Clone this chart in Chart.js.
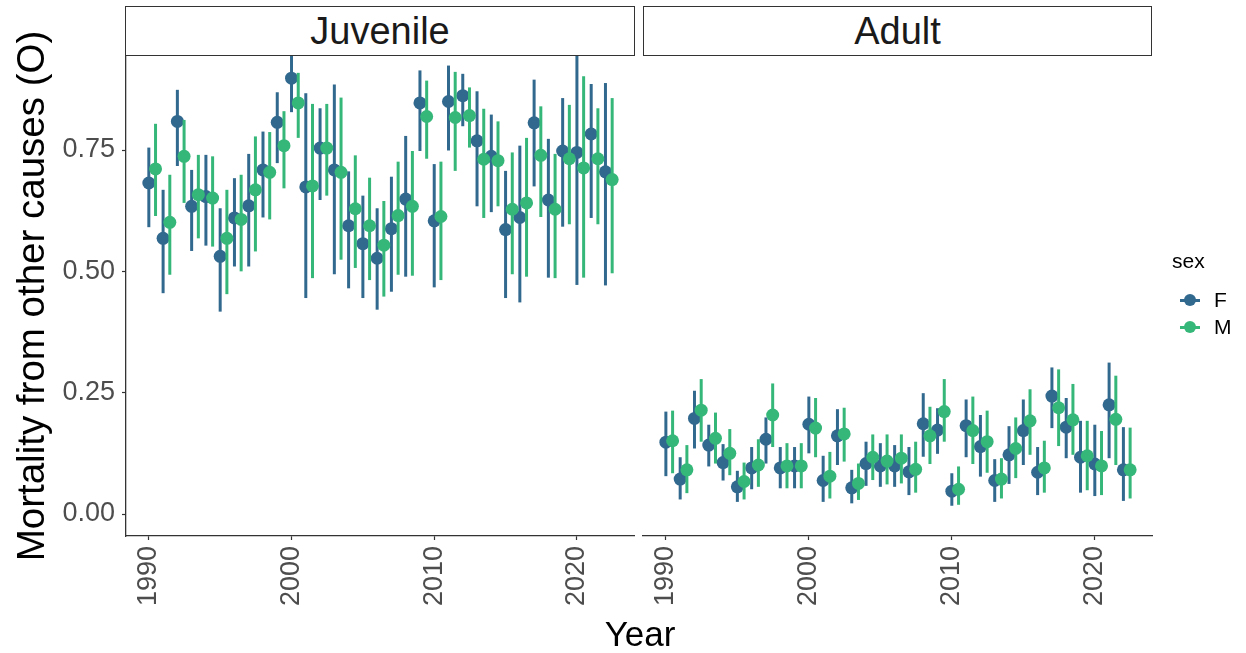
<!DOCTYPE html>
<html>
<head>
<meta charset="utf-8">
<script src="https://cdn.jsdelivr.net/npm/chart.js@4"></script>
<style>
  body { margin: 0; background: #fff; font-family: "Liberation Sans", Arial, sans-serif; }
  #wrap { position: relative; width: 1246px; height: 653px; overflow: hidden; }
  canvas { position: absolute; left: 0; top: 0; }
  .strip { position: absolute; top: 6px; height: 50px; box-sizing: border-box; border: 1.3px solid #333;
           display: flex; align-items: center; justify-content: center; font-size: 38px; color: #1a1a1a; background: #fff; }
  .lab { position: absolute; color: #000; white-space: nowrap; }
  .key { position: absolute; width: 20px; height: 3px; }
  .dot { position: absolute; width: 12px; height: 12px; border-radius: 50%; }
</style>
</head>
<body>
<div id="wrap">
  <canvas id="juv" width="1246" height="653"></canvas>
  <canvas id="adu" width="1246" height="653"></canvas>
  <div class="strip" style="left:125px;width:510px;">Juvenile</div>
  <div class="strip" style="left:643px;width:509px;">Adult</div>
  <div class="lab" style="left:640px;top:614px;font-size:35px;transform:translateX(-50%);">Year</div>
  <div class="lab" style="left:1172px;top:249px;font-size:21px;">sex</div>
  <div class="key" style="left:1180px;top:299px;background:#31688E;"></div>
  <div class="dot" style="left:1184px;top:294px;background:#31688E;"></div>
  <div class="lab" style="left:1214px;top:288px;font-size:21px;">F</div>
  <div class="key" style="left:1180px;top:326px;background:#35B779;"></div>
  <div class="dot" style="left:1184px;top:321px;background:#35B779;"></div>
  <div class="lab" style="left:1214px;top:315px;font-size:21px;">M</div>
</div>
<script>
const years = [1990, 1991, 1992, 1993, 1994, 1995, 1996, 1997, 1998, 1999, 2000, 2001, 2002, 2003, 2004, 2005, 2006,
               2007, 2008, 2009, 2010, 2011, 2012, 2013, 2014, 2015, 2016, 2017, 2018, 2019, 2020, 2021, 2022];
const xTicks = [1990, 2000, 2010, 2020];
const yTicks = [0, 0.25, 0.5, 0.75];

// Juvenile
const juvF   = [0.682, 0.568, 0.809, 0.634, 0.654, 0.531, 0.610, 0.635, 0.709, 0.807, 0.898, 0.674, 0.754, 0.709, 0.594, 0.557, 0.527,
                0.588, 0.649, 0.847, 0.604, 0.850, 0.862, 0.769, 0.737, 0.586, 0.611, 0.806, 0.647, 0.748, 0.745, 0.783, 0.705];
const juvFLo = [0.591, 0.455, 0.717, 0.542, 0.553, 0.417, 0.510, 0.510, 0.611, 0.723, 0.828, 0.445, 0.647, 0.494, 0.465, 0.445, 0.421,
                0.458, 0.489, 0.748, 0.467, 0.749, 0.799, 0.634, 0.622, 0.445, 0.436, 0.675, 0.487, 0.592, 0.472, 0.610, 0.471];
const juvFHi = [0.755, 0.668, 0.874, 0.709, 0.740, 0.630, 0.692, 0.742, 0.788, 0.869, 0.965, 0.867, 0.836, 0.885, 0.706, 0.656, 0.630,
                0.695, 0.779, 0.914, 0.721, 0.924, 0.907, 0.871, 0.823, 0.707, 0.759, 0.895, 0.773, 0.857, 0.970, 0.886, 0.888];
const juvM   = [0.711, 0.601, 0.737, 0.658, 0.651, 0.568, 0.607, 0.668, 0.704, 0.759, 0.847, 0.676, 0.754, 0.704, 0.629, 0.594, 0.554,
                0.615, 0.634, 0.819, 0.613, 0.817, 0.821, 0.731, 0.728, 0.628, 0.641, 0.739, 0.628, 0.732, 0.713, 0.732, 0.689];
const juvMLo = [0.614, 0.493, 0.641, 0.568, 0.551, 0.453, 0.500, 0.541, 0.607, 0.671, 0.775, 0.486, 0.656, 0.524, 0.507, 0.482, 0.448,
                0.493, 0.491, 0.732, 0.482, 0.707, 0.755, 0.610, 0.634, 0.494, 0.489, 0.612, 0.486, 0.597, 0.487, 0.597, 0.496];
const juvMHi = [0.804, 0.699, 0.812, 0.740, 0.737, 0.668, 0.699, 0.778, 0.787, 0.830, 0.909, 0.845, 0.845, 0.858, 0.739, 0.693, 0.645,
                0.726, 0.748, 0.893, 0.726, 0.911, 0.879, 0.835, 0.809, 0.745, 0.775, 0.840, 0.742, 0.843, 0.902, 0.836, 0.857];

// Adult
const adF   = [0.148, 0.072, 0.197, 0.142, 0.106, 0.056, 0.095, 0.154, 0.095, 0.099, 0.185, 0.069, 0.161, 0.054, 0.104, 0.099, 0.099,
               0.087, 0.186, 0.173, 0.047, 0.182, 0.139, 0.069, 0.122, 0.172, 0.086, 0.243, 0.179, 0.117, 0.103, 0.225, 0.091];
const adFLo = [0.078, 0.030, 0.135, 0.098, 0.069, 0.025, 0.051, 0.104, 0.053, 0.053, 0.125, 0.025, 0.101, 0.022, 0.058, 0.056, 0.056,
               0.039, 0.118, 0.124, 0.017, 0.117, 0.077, 0.025, 0.062, 0.101, 0.039, 0.177, 0.115, 0.044, 0.037, 0.115, 0.027];
const adFHi = [0.211, 0.117, 0.254, 0.184, 0.144, 0.089, 0.138, 0.199, 0.138, 0.138, 0.242, 0.120, 0.216, 0.091, 0.149, 0.146, 0.142,
               0.138, 0.249, 0.218, 0.084, 0.236, 0.204, 0.113, 0.181, 0.236, 0.138, 0.302, 0.239, 0.192, 0.184, 0.312, 0.179];
const adM   = [0.151, 0.091, 0.214, 0.156, 0.125, 0.067, 0.101, 0.204, 0.099, 0.099, 0.177, 0.078, 0.165, 0.063, 0.117, 0.109, 0.115,
               0.092, 0.161, 0.211, 0.051, 0.172, 0.149, 0.072, 0.135, 0.192, 0.095, 0.219, 0.194, 0.120, 0.099, 0.195, 0.091];
const adMLo = [0.084, 0.043, 0.149, 0.104, 0.080, 0.030, 0.056, 0.138, 0.053, 0.053, 0.117, 0.032, 0.108, 0.029, 0.070, 0.061, 0.063,
               0.044, 0.103, 0.149, 0.019, 0.103, 0.085, 0.032, 0.074, 0.122, 0.044, 0.140, 0.122, 0.049, 0.039, 0.101, 0.032];
const adMHi = [0.213, 0.142, 0.278, 0.209, 0.175, 0.106, 0.154, 0.269, 0.146, 0.146, 0.239, 0.128, 0.219, 0.104, 0.164, 0.164, 0.164,
               0.149, 0.221, 0.278, 0.098, 0.242, 0.213, 0.115, 0.199, 0.257, 0.151, 0.298, 0.268, 0.192, 0.171, 0.285, 0.178];

const colF = '#31688E';
const colM = '#35B779';
const dodge = 0.47;   // M is shifted right of F
const tickFont = { family: '"Liberation Sans", Arial, sans-serif', size: 27 };

function errBars(lo, hi, shift) {
    return years.map((y, i) => ({ x: y + shift, y: [lo[i], hi[i]] }));
}
function pts(vals, shift) {
    return years.map((y, i) => ({ x: y + shift, y: vals[i] }));
}

function makePanel(id, f, fLo, fHi, m, mLo, mHi, showY) {
    const ctx = document.getElementById(id);
    const bar = { type: 'bar', grouped: false, maxBarThickness: 3, borderWidth: 0 };
    new Chart(ctx, {
        type: 'scatter',
        data: {
            datasets: [
                { ...bar, data: errBars(fLo, fHi, 0), backgroundColor: colF, order: 4 },
                { data: pts(f, 0), backgroundColor: colF, borderWidth: 0, pointRadius: 6.5, order: 3 },
                { ...bar, data: errBars(mLo, mHi, dodge), backgroundColor: colM, order: 2 },
                { data: pts(m, dodge), backgroundColor: colM, borderWidth: 0, pointRadius: 6.5, order: 1 }
            ]
        },
        options: {
            responsive: false,
            devicePixelRatio: 1,
            animation: false,
            layout: {
                padding: showY ? { left: 0, right: 612, top: 56, bottom: 0 }
                               : { left: 643, right: 94, top: 56, bottom: 0 }
            },
            plugins: { legend: { display: false }, tooltip: { enabled: false } },
            scales: {
                x: {
                    type: 'linear',
                    min: 1988.4,
                    max: 2024.0,
                    offset: false,
                    afterBuildTicks: s => { s.ticks = xTicks.map(v => ({ value: v })); },
                    afterFit: s => { s.height = 117; },
                    grid: { display: true, drawOnChartArea: false, offset: false, tickLength: 4, tickColor: '#333', tickWidth: 1.2 },
                    border: { display: true, color: '#333', width: 1.3 },
                    ticks: { font: tickFont, color: '#4D4D4D', minRotation: 90, maxRotation: 90, padding: 6, autoSkip: false,
                             callback: v => String(v) }
                },
                y: {
                    display: showY,
                    min: -0.0453,
                    max: 0.9437,
                    afterBuildTicks: s => { s.ticks = yTicks.map(v => ({ value: v })); },
                    afterFit: s => { s.width = showY ? 126 : 0; },
                    grid: { display: true, drawOnChartArea: false, tickLength: 4, tickColor: '#333', tickWidth: 1.2 },
                    border: { display: true, color: '#333', width: 1.3 },
                    ticks: { font: tickFont, color: '#4D4D4D', padding: 7, callback: v => v.toFixed(2) },
                    title: {
                        display: true,
                        text: 'Mortality from other causes (O)',
                        font: { family: '"Liberation Sans", Arial, sans-serif', size: 38.5 },
                        color: '#000',
                        padding: { top: 10, bottom: 0 }
                    }
                }
            }
        }
    });
}

makePanel('juv', juvF, juvFLo, juvFHi, juvM, juvMLo, juvMHi, true);
makePanel('adu', adF, adFLo, adFHi, adM, adMLo, adMHi, false);
</script>
</body>
</html>
